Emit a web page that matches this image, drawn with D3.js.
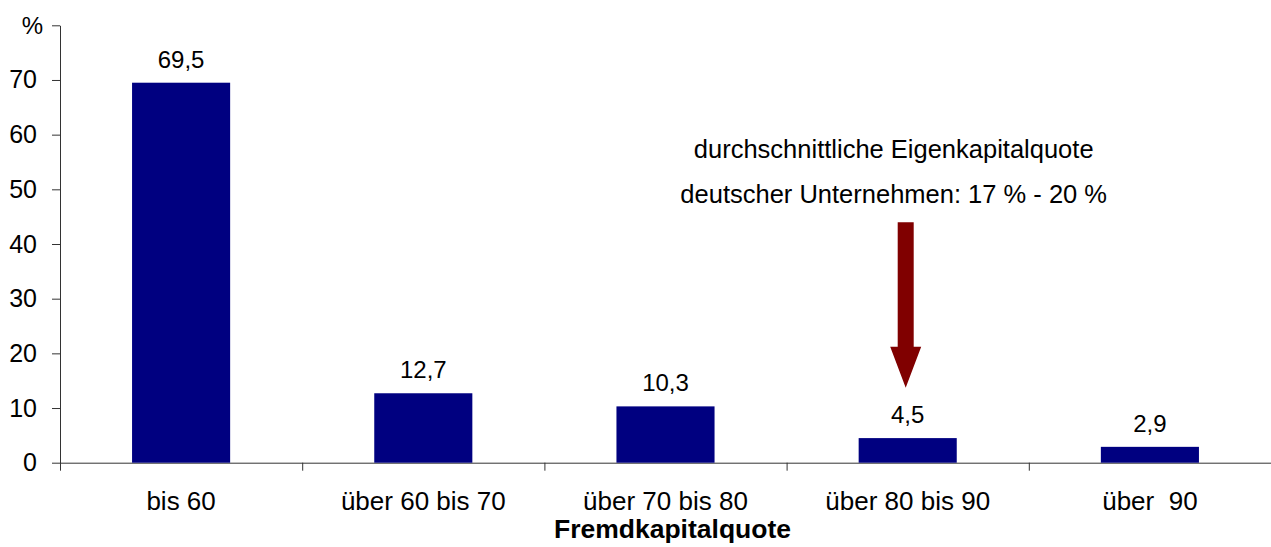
<!DOCTYPE html>
<html>
<head>
<meta charset="utf-8">
<script src="https://cdn.jsdelivr.net/npm/d3@7"></script>
<style>
  body { margin: 0; background: #fff; }
  text { font-family: "Liberation Sans", Arial, sans-serif; fill: #000; }
</style>
</head>
<body>
<script>
const categories = ["bis 60", "über 60 bis 70", "über 70 bis 80", "über 80 bis 90", "über  90"];
const values = [69.5, 12.7, 10.3, 4.5, 2.9];
const valueLabels = ["69,5", "12,7", "10,3", "4,5", "2,9"];
const yTicks = [0, 10, 20, 30, 40, 50, 60, 70, 80];
const axisTitle = "Fremdkapitalquote";
const noteLines = ["durchschnittliche Eigenkapitalquote", "deutscher Unternehmen: 17 % - 20 %"];
const noteCategory = "über 80 bis 90";
// arrow in data units: shaft top, head start, tip
const arrowTop = 44, arrowHead = 21.2, arrowTip = 13.7;

const width = 1271;
const height = 547;
const marginLeft = 60;
const marginRight = 0;
const yTop = 25.3;
const yBottom = 462.7;

const svg = d3.select("body").append("svg")
  .attr("width", width)
  .attr("height", height);

const x = d3.scaleBand()
  .domain(categories)
  .range([marginLeft, width - marginRight])
  .paddingInner(0.595)
  .paddingOuter(0.2975);

const xEdges = d3.scaleLinear()
  .domain([0, categories.length])
  .range([marginLeft, width - marginRight]);

const y = d3.scaleLinear()
  .domain([0, 80])
  .range([yBottom, yTop]);

// y axis
const yAxis = svg.append("g")
  .attr("transform", `translate(${marginLeft},0)`)
  .call(d3.axisLeft(y).tickValues(yTicks).tickSize(8).tickSizeOuter(0).tickPadding(15)
    .tickFormat(d => d === 80 ? "" : d));
yAxis.selectAll("text").style("font-size", "25px");
yAxis.selectAll("line, path").attr("stroke", "#333");

svg.append("text")
  .attr("x", marginLeft - 17)
  .attr("y", y(80))
  .attr("dy", "0.35em")
  .attr("text-anchor", "end")
  .style("font-size", "24px")
  .text("%");

// x axis line with ticks between categories
const xAxis = svg.append("g")
  .attr("transform", `translate(0,${yBottom})`)
  .call(d3.axisBottom(xEdges).tickValues(d3.range(categories.length)).tickSize(8).tickSizeOuter(0).tickFormat(""));
xAxis.selectAll("line, path").attr("stroke", "#333");

// category labels
const xLabels = svg.append("g")
  .attr("transform", `translate(0,${yBottom})`)
  .call(d3.axisBottom(x).tickSize(0).tickPadding(29));
xLabels.select(".domain").remove();
xLabels.selectAll("text").style("font-size", "26px").style("white-space", "pre");

// bars
svg.append("g")
  .selectAll("rect")
  .data(values)
  .join("rect")
  .attr("x", (d, i) => x(categories[i]))
  .attr("width", x.bandwidth())
  .attr("y", d => y(d))
  .attr("height", d => y(0) - y(d))
  .attr("fill", "#000080");

// value labels
svg.append("g")
  .selectAll("text")
  .data(values)
  .join("text")
  .attr("x", (d, i) => x(categories[i]) + x.bandwidth() / 2)
  .attr("y", d => y(d) - 15)
  .attr("text-anchor", "middle")
  .style("font-size", "24px")
  .text((d, i) => valueLabels[i]);

// axis title
svg.append("text")
  .attr("x", (marginLeft + width - marginRight) / 2 + 7)
  .attr("y", 538)
  .attr("text-anchor", "middle")
  .style("font-size", "26.5px")
  .style("font-weight", "bold")
  .text(axisTitle);

// annotation arrow
const ax = x(noteCategory) + x.bandwidth() / 2 - 2;
const shaftW = 8, headW = 15.5;
svg.append("path")
  .attr("d", `M${ax - shaftW},${y(arrowTop)} L${ax + shaftW},${y(arrowTop)} L${ax + shaftW},${y(arrowHead)} L${ax + headW},${y(arrowHead)} L${ax},${y(arrowTip)} L${ax - headW},${y(arrowHead)} L${ax - shaftW},${y(arrowHead)} Z`)
  .attr("fill", "#800000");

svg.append("g")
  .selectAll("text")
  .data(noteLines)
  .join("text")
  .attr("x", ax - 12)
  .attr("y", (d, i) => y(arrowTop) - 64 + i * 45)
  .attr("text-anchor", "middle")
  .style("font-size", "25.5px")
  .text(d => d);
</script>
</body>
</html>
